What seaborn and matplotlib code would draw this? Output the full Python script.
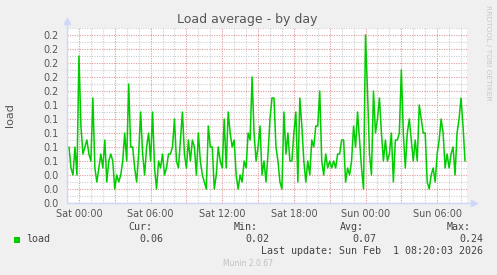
import matplotlib
matplotlib.use("Agg")
import matplotlib.pyplot as plt
from matplotlib.patches import Rectangle
import numpy as np
import pandas as pd
import seaborn as sns

# ---------------- data ----------------
start_time = "2026-01-30 23:10"
sample_minutes = 10
load_values = [
    0.08, 0.05, 0.04, 0.08, 0.04, 0.21, 0.11, 0.07, 0.08, 0.09, 0.07, 0.06,
    0.15, 0.05, 0.03, 0.05, 0.07, 0.05, 0.09, 0.03, 0.06, 0.07, 0.06, 0.02,
    0.04, 0.03, 0.04, 0.06, 0.10, 0.06, 0.17, 0.08, 0.08, 0.05, 0.03, 0.07,
    0.13, 0.07, 0.04, 0.08, 0.10, 0.06, 0.13, 0.05, 0.02, 0.06, 0.05, 0.07,
    0.04, 0.05, 0.07, 0.07, 0.08, 0.12, 0.06, 0.05, 0.09, 0.13, 0.07, 0.05,
    0.09, 0.06, 0.09, 0.08, 0.04, 0.10, 0.06, 0.04, 0.03, 0.02, 0.11, 0.08,
    0.08, 0.02, 0.04, 0.08, 0.06, 0.05, 0.12, 0.05, 0.13, 0.10, 0.08, 0.09,
    0.04, 0.02, 0.04, 0.03, 0.06, 0.05, 0.10, 0.09, 0.18, 0.10, 0.06, 0.08,
    0.11, 0.04, 0.06, 0.03, 0.07, 0.12, 0.15, 0.15, 0.08, 0.06, 0.03, 0.02,
    0.13, 0.07, 0.10, 0.06, 0.06, 0.10, 0.13, 0.03, 0.15, 0.11, 0.06, 0.03,
    0.06, 0.04, 0.09, 0.08, 0.11, 0.11, 0.16, 0.06, 0.04, 0.07, 0.05, 0.06,
    0.05, 0.06, 0.05, 0.07, 0.07, 0.09, 0.09, 0.03, 0.05, 0.04, 0.06, 0.11,
    0.08, 0.13, 0.09, 0.05, 0.02, 0.24, 0.16, 0.07, 0.04, 0.16, 0.10, 0.12,
    0.15, 0.10, 0.06, 0.09, 0.06, 0.07, 0.10, 0.03, 0.09, 0.09, 0.10, 0.19,
    0.10, 0.05, 0.10, 0.12, 0.09, 0.06, 0.09, 0.06, 0.14, 0.12, 0.10, 0.10,
    0.03, 0.02, 0.04, 0.05, 0.03, 0.07, 0.09, 0.12, 0.10, 0.05, 0.07, 0.05,
    0.07, 0.08, 0.04, 0.10, 0.12, 0.15, 0.11, 0.06,
]
x_range = ["2026-01-30 23:10", "2026-02-01 08:30"]
x_major_ticks = ["2026-01-31 00:00", "2026-01-31 03:00", "2026-01-31 06:00",
                 "2026-01-31 09:00", "2026-01-31 12:00", "2026-01-31 15:00",
                 "2026-01-31 18:00", "2026-01-31 21:00", "2026-02-01 00:00",
                 "2026-02-01 03:00", "2026-02-01 06:00"]
x_tick_labels = ["Sat 00:00", "", "Sat 06:00", "", "Sat 12:00", "",
                 "Sat 18:00", "", "Sun 00:00", "", "Sun 06:00"]
y_max = 0.25
y_major_ticks = [0.00, 0.02, 0.04, 0.06, 0.08, 0.10, 0.12, 0.14, 0.16, 0.18, 0.20, 0.22, 0.24]
y_tick_labels = ["0.0", "0.0", "0.0", "0.1", "0.1", "0.1", "0.1", "0.1",
                 "0.2", "0.2", "0.2", "0.2", "0.2"]
title = "Load average - by day"
y_label = "load"
legend_name = "load"
stat_headers = ["Cur:", "Min:", "Avg:", "Max:"]
stat_values = ["0.06", "0.02", "0.07", "0.24"]
last_update = "Last update: Sun Feb  1 08:20:03 2026"
footer = "Munin 2.0.67"
side_text = "RRDTOOL / TOBI OETIKER"

times = pd.date_range(start_time, periods=len(load_values), freq=f"{sample_minutes}min")
df = pd.DataFrame({"time": times, "load": load_values})

# ---------------- style ----------------
sns.set_style("white")
plt.rcParams["font.family"] = ["DejaVu Sans"]

W, H = 497, 275
fig = plt.figure(figsize=(W / 100, H / 100), dpi=100, facecolor="#f0f0f0")
ax = fig.add_axes([67 / W, (H - 203) / H, 400 / W, 175 / H])
ax.set_facecolor("white")

LINE = "#00cc00"
RED = "#dd9a9a"
GRAY = "#cfcfcf"
AXIS = "#cfd6f8"
TXT = "#555555"

sns.lineplot(data=df, x="time", y="load", color=LINE, linewidth=1.1, ax=ax, zorder=5)

ax.set_xlim(pd.Timestamp(x_range[0]), pd.Timestamp(x_range[1]))
ax.set_ylim(0, y_max)

major_x = pd.to_datetime(x_major_ticks)
ax.set_xticks(major_x)
ax.set_xticklabels(x_tick_labels)
minor_x = pd.date_range("2026-01-30 23:00", x_range[1], freq="1h")
ax.set_xticks(minor_x, minor=True)

ax.set_yticks(y_major_ticks)
ax.set_yticklabels(y_tick_labels)
ax.set_yticks(np.arange(0, y_max + 0.001, 0.01), minor=True)

ax.set_axisbelow(True)
ax.grid(which="major", color=RED, linewidth=0.8, linestyle=(0, (1, 1.2)))
ax.grid(which="minor", color=GRAY, linewidth=0.8, linestyle=(0, (1, 1.2)))

ax.tick_params(axis="x", which="major", direction="inout", length=4, width=0.75,
               color=RED, labelsize=6.9, labelcolor=TXT, pad=2)
ax.tick_params(axis="y", which="major", length=0, labelsize=6.9, labelcolor=TXT, pad=6)
ax.tick_params(which="minor", length=0)

for s in ["top", "right", "left", "bottom"]:
    ax.spines[s].set_visible(False)

# axis lines with arrows
ax.plot([0, 0], [0, 1 + 6 / 175], transform=ax.transAxes, color=AXIS, lw=1, clip_on=False, zorder=6)
ax.plot([0, 1 + 6 / 400], [0, 0], transform=ax.transAxes, color=AXIS, lw=1, clip_on=False, zorder=6)
ax.plot([0], [1 + 7 / 175], transform=ax.transAxes, marker="^", color=AXIS, markersize=4,
        clip_on=False, zorder=6)
ax.plot([1 + 7 / 400], [0], transform=ax.transAxes, marker=">", color=AXIS, markersize=4,
        clip_on=False, zorder=6)

ax.set_xlabel("")
ax.set_ylabel("")

def fy(y):
    return 1 - y / H

fig.text(10.5 / W, fy(115), y_label, ha="center", va="center", rotation=90,
         fontsize=8, color=TXT)
fig.text(247 / W, fy(19.5), title, ha="center", va="center", fontsize=9, color=TXT)
fig.text(488 / W, fy(53), side_text, ha="center", va="center", rotation=270,
         fontsize=5.4, color="#c8c8c8")

MONO = "DejaVu Sans Mono"
header_x = [128, 234, 340, 447]
value_right = [163, 269.5, 376, 483]
for hx, h in zip(header_x, stat_headers):
    fig.text(hx / W, fy(227.5), h, ha="left", va="center", fontsize=7.2,
             family=MONO, color="#444444")
for vx, v in zip(value_right, stat_values):
    fig.text(vx / W, fy(239.5), v, ha="right", va="center", fontsize=7.2,
             family=MONO, color="#444444")
fig.patches.append(Rectangle((14 / W, fy(243)), 6 / W, 6 / H, transform=fig.transFigure,
                             facecolor=LINE, edgecolor="none"))
fig.text(26.5 / W, fy(239.5), legend_name, ha="left", va="center", fontsize=7.2,
         family=MONO, color="#444444")
fig.text(483 / W, fy(251.5), last_update, ha="right", va="center", fontsize=7.2,
         family=MONO, color="#444444")
fig.text(248 / W, fy(264), footer, ha="center", va="center", fontsize=5.5, color="#c0c0c0")

fig.savefig("out.png", dpi=100, facecolor=fig.get_facecolor())
